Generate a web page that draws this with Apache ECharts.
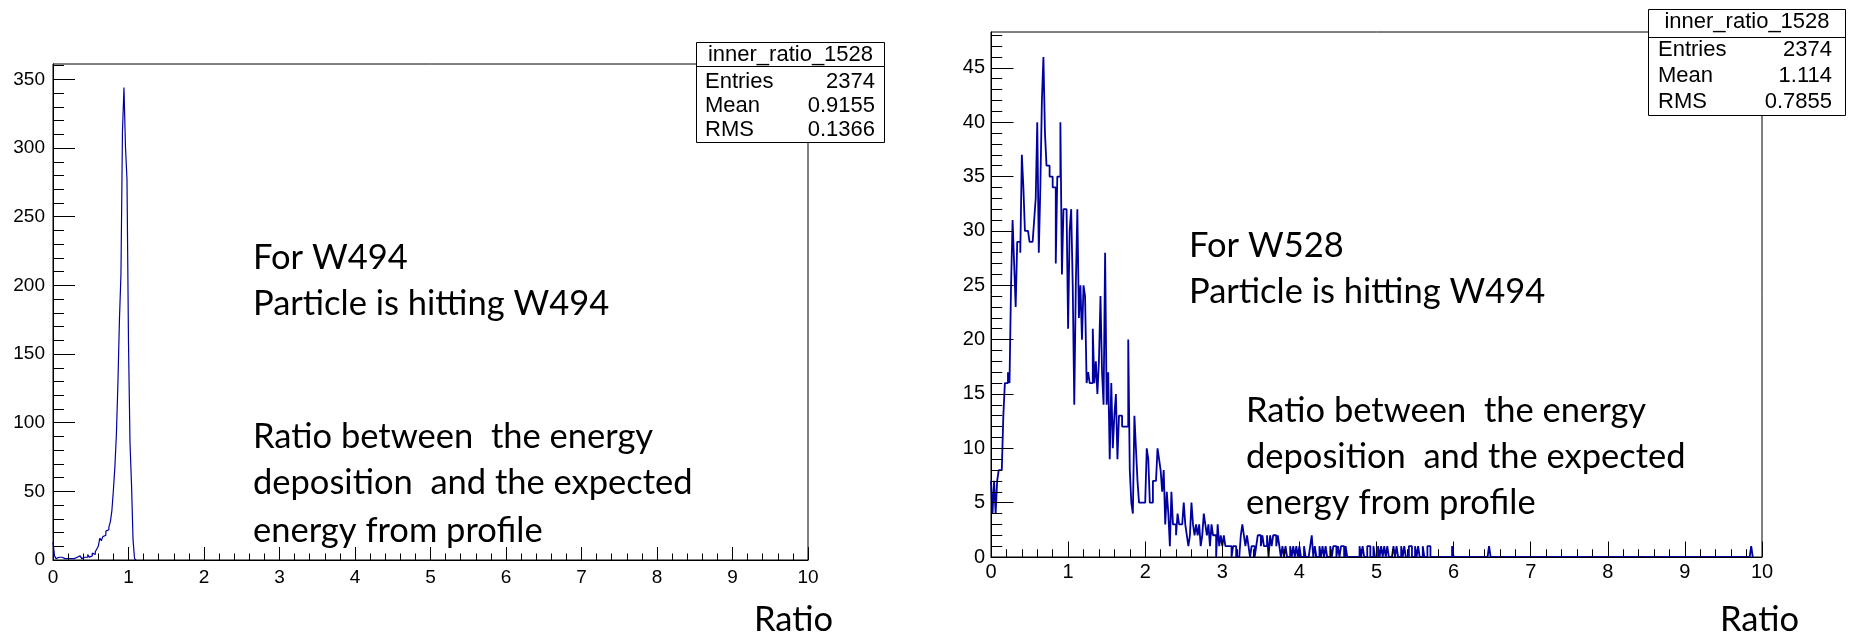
<!DOCTYPE html>
<html>
<head>
<meta charset="utf-8">
<title>inner_ratio_1528</title>
<script src="https://cdn.jsdelivr.net/npm/echarts@6.0.0/dist/echarts.min.js"></script>
<style>
  html, body { margin: 0; padding: 0; background: #fff; }
  #chart { width: 1849px; height: 636px; }
</style>
</head>
<body>
<div id="chart"></div>
<script>
// ---- data ----
const binWidth = 0.02; // 500 bins over 0..10

// W494 pad, bins from 0.00 to 1.08
const leftCounts = [
  13, 3, 1, 2, 1, 2, 1, 1, 2, 1,
  0, 1, 2, 1, 1, 2, 1, 3, 2, 1,
  2, 3, 2, 4, 2, 3, 5, 4, 6, 8,
  10, 16, 14, 17, 18, 21, 22, 24, 28, 36,
  51, 68, 92, 129, 175, 208, 312, 344, 301, 277,
  158, 85, 55, 15, 1
];

// W528 pad, bins from 0.00 to 3.58
const rightCounts = [
  7, 4, 7, 4, 7, 8, 8, 8, 13, 16,
  16, 17, 16, 25, 31, 27, 23, 29, 29, 28,
  37, 34, 30, 30, 30, 29, 29, 29, 31, 33,
  40, 28, 34, 42, 46, 39, 36, 36, 35, 35,
  34, 34, 27, 35, 35, 40, 26, 32, 32, 32,
  21, 30, 32, 25, 14, 25, 32, 22, 25, 20,
  25, 24, 16, 17, 16, 16, 21, 16, 18, 15,
  18, 24, 17, 14, 28, 14, 17, 9, 16, 10,
  13, 15, 9, 13, 13, 12, 12, 12, 12, 20,
  8, 5, 4, 13, 10, 7, 5, 5, 5, 5,
  5, 10, 9, 5, 5, 7, 7, 7, 10, 9,
  8, 6, 8, 3, 6, 4, 1, 6, 3, 3,
  2, 4, 3, 3, 3, 5, 3, 2, 1, 2,
  5, 3, 2, 3, 2, 3, 1, 2, 4, 3,
  2, 3, 1, 3, 2, 2, 0, 3, 1, 2,
  1, 2, 1, 1, 1, 1, 0, 1, 1, 0,
  0, 0, 2, 3, 2, 1, 2, 1, 0, 1,
  1, 0, 1, 2, 2, 1, 2, 1, 1, 2
];

// W528 pad, sparse tail: [bin low edge, count]
const rightTail = [
  [3.62, 2], [3.64, 1], [3.66, 2], [3.68, 2], [3.70, 1], [3.72, 2], [3.74, 1],
  [3.78, 1], [3.82, 1], [3.88, 1], [3.92, 1], [3.96, 1], [4.00, 1], [4.06, 1],
  [4.14, 1], [4.16, 2], [4.20, 1], [4.26, 1], [4.30, 1], [4.34, 1], [4.40, 1],
  [4.44, 1], [4.46, 1], [4.50, 1], [4.54, 1], [4.56, 1], [4.60, 1], [4.78, 1],
  [4.82, 1], [4.88, 1], [4.90, 1], [4.96, 1], [5.02, 1], [5.06, 1], [5.10, 1],
  [5.14, 1], [5.22, 1], [5.26, 1], [5.32, 1], [5.36, 1], [5.42, 1], [5.44, 1],
  [5.50, 1], [5.54, 1], [5.60, 1], [5.66, 1], [5.68, 1], [5.98, 1], [6.46, 1],
  [9.86, 1]
];

const leftYMax = 361.2;
const rightYMax = 48.3;
const leftYMajor = [0, 50, 100, 150, 200, 250, 300, 350];
const rightYMajor = [0, 5, 10, 15, 20, 25, 30, 35, 40, 45];

const statsTitle = 'inner_ratio_1528';
const statsLabels = ['Entries', 'Mean', 'RMS'];
const leftStats = ['2374', '0.9155', '0.1366'];
const rightStats = ['2374', '1.114', '0.7855'];

const leftNotes = ['For W494', 'Particle is hitting W494',
  'Ratio between  the energy', 'deposition  and the expected', 'energy from profile'];
const rightNotes = ['For W528', 'Particle is hitting W494',
  'Ratio between  the energy', 'deposition  and the expected', 'energy from profile'];
const axisTitle = 'Ratio';

// ---- helpers ----
function stepPoints(counts) {
  const pts = counts.map((c, i) => [i * binWidth, c]);
  pts.push([counts.length * binWidth, 0]);
  return pts;
}

function withTail(counts, tail) {
  const all = counts.slice();
  tail.forEach(([x, c]) => {
    const idx = Math.round(x / binWidth);
    while (all.length < idx) all.push(0);
    all[idx] = c;
  });
  return all;
}

function minorValues(max, step, majorStep) {
  const v = [];
  for (let k = step; k <= max; k += step) {
    if (k % majorStep !== 0) v.push(k);
  }
  return v;
}

const tickFont = 'Liberation Sans';
const noteFont = 'Lato';

function xAxisOf(grid, tickLen, fontSize, margin) {
  return {
    type: 'value', gridIndex: grid, min: 0, max: 10, interval: 1, z: 5,
    axisLine: { show: true, lineStyle: { color: '#000', width: 1 } },
    axisTick: { show: true, inside: true, length: tickLen, lineStyle: { color: '#000', width: 1 } },
    minorTick: { show: true, splitNumber: 5, length: tickLen / 2, lineStyle: { color: '#000', width: 1 } },
    axisLabel: { color: '#000', fontFamily: tickFont, fontSize: fontSize, margin: margin },
    splitLine: { show: false }, minorSplitLine: { show: false }
  };
}

function yAxesOf(grid, max, major, minorStep, majorStep, tickLen, fontSize, margin) {
  return [{
    type: 'value', gridIndex: grid, position: 'left', offset: 0, min: 0, max: max, z: 5,
    interval: majorStep,
    axisLine: { show: true, lineStyle: { color: '#000', width: 1 } },
    axisTick: { show: true, inside: true, length: tickLen, customValues: major, lineStyle: { color: '#000', width: 1 } },
    axisLabel: { color: '#000', fontFamily: tickFont, fontSize: fontSize, margin: margin,
      customValues: major },
    splitLine: { show: false }
  }, {
    type: 'value', gridIndex: grid, position: 'left', offset: 0, min: 0, max: max, z: 5,
    axisLine: { show: false },
    axisTick: { show: true, inside: true, length: tickLen / 2,
      customValues: minorValues(max, minorStep, majorStep), lineStyle: { color: '#000', width: 1 } },
    axisLabel: { show: false },
    splitLine: { show: false }
  }];
}

function statsBox(x, y, w, h, sepY, rowsY, titleY, fontSize, labelX, valueX, values) {
  const font = fontSize + 'px "' + tickFont + '"';
  const els = [
    { type: 'rect', z: 20, shape: { x: x, y: y, width: w, height: h },
      style: { fill: '#fff', stroke: '#000', lineWidth: 1 } },
    { type: 'line', z: 21, shape: { x1: x, y1: sepY, x2: x + w, y2: sepY },
      style: { stroke: '#000', lineWidth: 1 } },
    { type: 'text', z: 21, x: x + w / 2, y: titleY,
      style: { text: statsTitle, font: font, fill: '#000', align: 'center', verticalAlign: 'middle',
        textAlign: 'center', textVerticalAlign: 'middle' } }
  ];
  statsLabels.forEach((lab, i) => {
    els.push({ type: 'text', z: 21, x: labelX, y: rowsY[i],
      style: { text: lab, font: font, fill: '#000', align: 'left', verticalAlign: 'middle',
        textAlign: 'left', textVerticalAlign: 'middle' } });
    els.push({ type: 'text', z: 21, x: valueX, y: rowsY[i],
      style: { text: values[i], font: font, fill: '#000', align: 'right', verticalAlign: 'middle',
        textAlign: 'right', textVerticalAlign: 'middle' } });
  });
  return els;
}

function noteText(text, x, y, size) {
  return { type: 'text', z: 15, x: x, y: y,
    style: { text: text, font: size + 'px ' + noteFont, fill: '#000', align: 'left', verticalAlign: 'middle',
      textAlign: 'left', textVerticalAlign: 'middle' } };
}

// ---- chart ----
const chart = echarts.init(document.getElementById('chart'), null, { renderer: 'canvas' });

const leftNoteY = [258, 304, 437, 483, 531];
const rightNoteY = [246, 292, 411, 457, 503];

const graphics = []
  .concat(statsBox(696.5, 42.5, 188, 100, 66.5, [81.5, 105.5, 130], 55, 22, 705, 875, leftStats))
  .concat(statsBox(1648.5, 9.5, 197, 106, 37.5, [49.5, 76, 101.5], 22, 22, 1658, 1832, rightStats))
  .concat(leftNotes.map((t, i) => noteText(t, 253, leftNoteY[i], 34.5)))
  .concat(rightNotes.map((t, i) => noteText(t, i < 2 ? 1189 : 1246, rightNoteY[i], 34.5)))
  .concat([noteText(axisTitle, 754, 620, 34.5), noteText(axisTitle, 1720, 620, 34.5)]);

chart.setOption({
  animation: false,
  backgroundColor: '#fff',
  grid: [
    { left: 53, top: 64, width: 755, height: 496, show: true, borderColor: '#000', borderWidth: 1,
      backgroundColor: 'transparent', containLabel: false, outerBoundsMode: 'none' },
    { left: 991, top: 32, width: 771, height: 525, show: true, borderColor: '#000', borderWidth: 1,
      backgroundColor: 'transparent', containLabel: false, outerBoundsMode: 'none' }
  ],
  xAxis: [xAxisOf(0, 13, 19, 8), xAxisOf(1, 15.5, 20, 5)],
  yAxis: [].concat(
    yAxesOf(0, leftYMax, leftYMajor, 10, 50, 22, 19, 8),
    yAxesOf(1, rightYMax, rightYMajor, 1, 5, 22.5, 20, 6)
  ),
  series: [
    { type: 'line', name: 'W494', xAxisIndex: 0, yAxisIndex: 0, step: 'end', symbol: 'none', z: 2,
      lineStyle: { color: '#0000a0', width: 1.2 }, data: stepPoints(leftCounts) },
    { type: 'line', name: 'W528', xAxisIndex: 1, yAxisIndex: 2, step: 'end', symbol: 'none', z: 2,
      lineStyle: { color: '#0000a0', width: 1.8 }, data: stepPoints(withTail(rightCounts, rightTail)) }
  ],
  graphic: { elements: graphics }
});
</script>
</body>
</html>
